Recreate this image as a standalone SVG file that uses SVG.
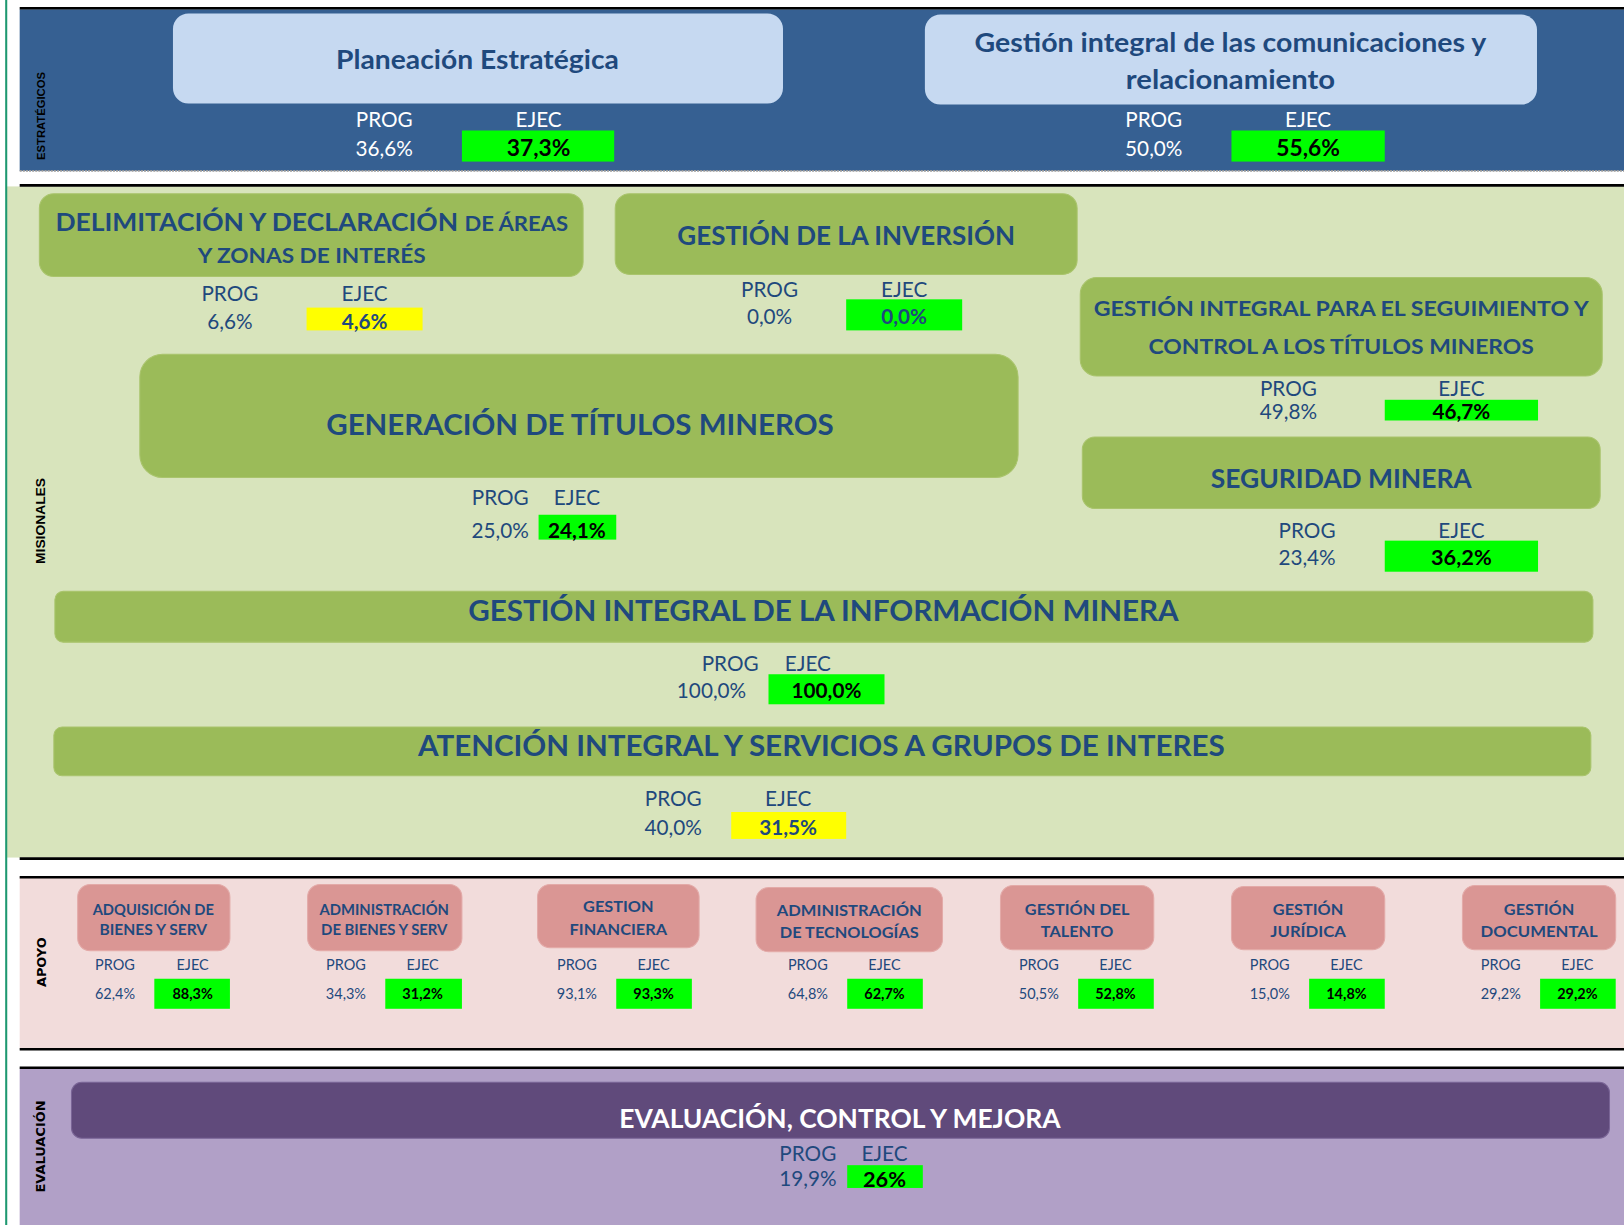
<svg xmlns="http://www.w3.org/2000/svg" width="1624" height="1225" viewBox="0 0 1624 1225">
<style>
text{font-family:Lato,"Open Sans","Liberation Sans",sans-serif;text-anchor:middle}
.ttl{font-weight:bold;fill:#1F497D}
.lb{fill:#1F497D}
.lw{fill:#FFFFFF}
.vb{font-weight:bold;fill:#000000}
.vd{font-weight:bold;fill:#1F497D}
.side{font-family:"DejaVu Sans",Verdana,sans-serif;font-weight:bold;fill:#000}
.bl{stroke:#000;stroke-width:2.5}
.gbox{fill:#9BBB59;stroke:#A9C46C;stroke-width:1}
.pbox{fill:#DA9694;stroke:#E3AAA8;stroke-width:1}
.ok{fill:#00FF00}
.warn{fill:#FFFF00}
</style>
<rect width="1624" height="1225" fill="#FFFFFF"/>
<g transform="scale(1.03571)">
<g id="bands">
<rect x="19" y="9" width="1549" height="156" fill="#366092"/>
<line x1="19" y1="165" x2="1568" y2="165" stroke="#9a9a9a" stroke-width="1.5" stroke-dasharray="2 1"/>
<line class="bl" x1="19" y1="8" x2="1568" y2="8"/>
<rect x="6" y="180" width="1562" height="648" fill="#D8E4BC"/>
<line class="bl" x1="19" y1="179" x2="1568" y2="179"/>
<line class="bl" x1="19" y1="829" x2="1568" y2="829"/>
<rect x="19" y="847" width="1549" height="165" fill="#F2DCDB"/>
<line class="bl" x1="19" y1="847" x2="1568" y2="847"/>
<line class="bl" x1="19" y1="1013" x2="1568" y2="1013"/>
<rect x="19" y="1032" width="1549" height="151" fill="#B1A0C7"/>
<line class="bl" x1="19" y1="1031" x2="1568" y2="1031"/>
<line x1="6" y1="0" x2="6" y2="1183" stroke="#1E9870" stroke-width="2"/>
<text class="side" transform="rotate(-90 39 112)" x="39" y="116" font-size="11" textLength="85" lengthAdjust="spacingAndGlyphs" style="font-family:'Liberation Sans',Arial,sans-serif">ESTRATÉGICOS</text>
<text class="side" transform="rotate(-90 39 503)" x="39" y="507" font-size="12.5" textLength="83" lengthAdjust="spacingAndGlyphs" style="font-family:'Liberation Sans',Arial,sans-serif">MISIONALES</text>
<text class="side" transform="rotate(-90 39 929)" x="39" y="934" font-size="12" textLength="48" lengthAdjust="spacingAndGlyphs">APOYO</text>
<text class="side" transform="rotate(-90 39 1107)" x="39" y="1111" font-size="11.5" textLength="89" lengthAdjust="spacingAndGlyphs">EVALUACIÓN</text>
</g>

<g id="connectors"></g>

<g id="planeacion">
<rect x="167" y="13" width="589" height="87" rx="15" fill="#C6D9F1"/>
<text class="ttl" x="461" y="67" font-size="26" textLength="273" lengthAdjust="spacingAndGlyphs">Planeación Estratégica</text>
<text class="lw" x="371" y="123" font-size="20">PROG</text>
<text class="lw" x="371" y="151" font-size="20">36,6%</text>
<text class="lw" x="520" y="123" font-size="20">EJEC</text>
<rect class="ok" x="446" y="126" width="147" height="30"/>
<text class="vb" x="520" y="151" font-size="22">37,3%</text>
</g>

<g id="comunicaciones">
<rect x="893" y="14" width="591" height="87" rx="15" fill="#C6D9F1"/>
<text class="ttl" x="1188" y="50" font-size="26" textLength="494" lengthAdjust="spacingAndGlyphs">Gestión integral de las comunicaciones y</text>
<text class="ttl" x="1188" y="86" font-size="26" textLength="202" lengthAdjust="spacingAndGlyphs">relacionamiento</text>
<text class="lw" x="1114" y="123" font-size="20">PROG</text>
<text class="lw" x="1114" y="151" font-size="20">50,0%</text>
<text class="lw" x="1263" y="123" font-size="20">EJEC</text>
<rect class="ok" x="1189" y="126" width="148" height="30"/>
<text class="vb" x="1263" y="151" font-size="22">55,6%</text>
</g>

<g id="delimitacion">
<rect class="gbox" x="38" y="187" width="525" height="80" rx="14"/>
<text class="ttl" x="301" y="223" font-size="24" textLength="495" lengthAdjust="spacingAndGlyphs">DELIMITACIÓN Y DECLARACIÓN <tspan font-size="20">DE ÁREAS</tspan></text>
<text class="ttl" x="301" y="254" font-size="20" textLength="220" lengthAdjust="spacingAndGlyphs">Y ZONAS DE INTERÉS</text>
<text class="lb" x="222" y="291" font-size="20">PROG</text>
<text class="lb" x="222" y="318" font-size="20">6,6%</text>
<text class="lb" x="352" y="291" font-size="20">EJEC</text>
<rect class="warn" x="296" y="297" width="112" height="22"/>
<text class="vd" x="352" y="318" font-size="20">4,6%</text>
</g>

<g id="inversion">
<rect class="gbox" x="594" y="187" width="446" height="78" rx="14"/>
<text class="ttl" x="817" y="237" font-size="25" textLength="326" lengthAdjust="spacingAndGlyphs">GESTIÓN DE LA INVERSIÓN</text>
<text class="lb" x="743" y="287" font-size="20">PROG</text>
<text class="lb" x="743" y="313" font-size="20">0,0%</text>
<text class="lb" x="873" y="287" font-size="20">EJEC</text>
<rect class="ok" x="817" y="289" width="112" height="30"/>
<text class="vd" x="873" y="313" font-size="20">0,0%</text>
</g>

<g id="seguimiento">
<rect class="gbox" x="1043" y="268" width="504" height="95" rx="16"/>
<text class="ttl" x="1295" y="305" font-size="21" textLength="478" lengthAdjust="spacingAndGlyphs">GESTIÓN INTEGRAL PARA EL SEGUIMIENTO Y</text>
<text class="ttl" x="1295" y="342" font-size="21" textLength="372" lengthAdjust="spacingAndGlyphs">CONTROL A LOS TÍTULOS MINEROS</text>
<text class="lb" x="1244" y="382" font-size="20">PROG</text>
<text class="lb" x="1244" y="405" font-size="20">49,8%</text>
<text class="lb" x="1411" y="382" font-size="20">EJEC</text>
<rect class="ok" x="1337" y="386" width="148" height="20"/>
<text class="vb" x="1411" y="405" font-size="20">46,7%</text>
</g>

<g id="generacion">
<rect class="gbox" x="135" y="342" width="848" height="119" rx="22"/>
<text class="ttl" x="560" y="420" font-size="28" textLength="490" lengthAdjust="spacingAndGlyphs">GENERACIÓN DE TÍTULOS MINEROS</text>
<text class="lb" x="483" y="488" font-size="20">PROG</text>
<text class="lb" x="483" y="519" font-size="20">25,0%</text>
<text class="lb" x="557" y="488" font-size="20">EJEC</text>
<rect class="ok" x="520" y="497" width="75" height="24"/>
<text class="vb" x="557" y="519" font-size="20">24,1%</text>
</g>

<g id="seguridad">
<rect class="gbox" x="1045" y="422" width="500" height="69" rx="12"/>
<text class="ttl" x="1295" y="471" font-size="25" textLength="252" lengthAdjust="spacingAndGlyphs">SEGURIDAD MINERA</text>
<text class="lb" x="1262" y="519" font-size="20">PROG</text>
<text class="lb" x="1262" y="546" font-size="20">23,4%</text>
<text class="lb" x="1411" y="519" font-size="20">EJEC</text>
<rect class="ok" x="1337" y="522" width="148" height="30"/>
<text class="vb" x="1411" y="546" font-size="21">36,2%</text>
</g>

<g id="informacion">
<rect class="gbox" x="53" y="571" width="1485" height="49" rx="8"/>
<text class="ttl" x="795" y="600" font-size="28" textLength="686" lengthAdjust="spacingAndGlyphs">GESTIÓN INTEGRAL DE LA INFORMACIÓN MINERA</text>
<text class="lb" x="705" y="648" font-size="20">PROG</text>
<text class="lb" x="687" y="674" font-size="20">100,0%</text>
<text class="lb" x="780" y="648" font-size="20">EJEC</text>
<rect class="ok" x="742" y="651" width="112" height="29"/>
<text class="vb" x="798" y="674" font-size="20">100,0%</text>
</g>

<g id="atencion">
<rect class="gbox" x="52" y="702" width="1484" height="47" rx="8"/>
<text class="ttl" x="793" y="730" font-size="28" textLength="779" lengthAdjust="spacingAndGlyphs">ATENCIÓN INTEGRAL Y SERVICIOS A GRUPOS DE INTERES</text>
<text class="lb" x="650" y="778" font-size="20">PROG</text>
<text class="lb" x="650" y="806" font-size="20">40,0%</text>
<text class="lb" x="761" y="778" font-size="20">EJEC</text>
<rect class="warn" x="706" y="784" width="111" height="26"/>
<text class="vd" x="761" y="806" font-size="20">31,5%</text>
</g>

<g id="adquisicion">
<rect class="pbox" x="75" y="854" width="147" height="64" rx="12"/>
<text class="ttl" x="148" y="883" font-size="14.5" textLength="117" lengthAdjust="spacingAndGlyphs">ADQUISICIÓN DE</text>
<text class="ttl" x="148" y="903" font-size="14.5" textLength="104" lengthAdjust="spacingAndGlyphs">BIENES  Y SERV</text>
<text class="lb" x="111" y="937" font-size="14">PROG</text>
<text class="lb" x="111" y="965" font-size="14">62,4%</text>
<text class="lb" x="186" y="937" font-size="14">EJEC</text>
<rect class="ok" x="149" y="945" width="73" height="29"/>
<text class="vb" x="186" y="965" font-size="14">88,3%</text>
</g>

<g id="administracion-bienes">
<rect class="pbox" x="297" y="854" width="149" height="64" rx="12"/>
<text class="ttl" x="371" y="883" font-size="14.5" textLength="125" lengthAdjust="spacingAndGlyphs">ADMINISTRACIÓN</text>
<text class="ttl" x="371" y="903" font-size="14.5" textLength="122" lengthAdjust="spacingAndGlyphs">DE BIENES Y SERV</text>
<text class="lb" x="334" y="937" font-size="14">PROG</text>
<text class="lb" x="334" y="965" font-size="14">34,3%</text>
<text class="lb" x="408" y="937" font-size="14">EJEC</text>
<rect class="ok" x="372" y="945" width="74" height="29"/>
<text class="vb" x="408" y="965" font-size="14">31,2%</text>
</g>

<g id="financiera">
<rect class="pbox" x="519" y="854" width="156" height="61" rx="12"/>
<text class="ttl" x="597" y="881" font-size="14.5" textLength="68" lengthAdjust="spacingAndGlyphs">GESTION</text>
<text class="ttl" x="597" y="903" font-size="14.5" textLength="94" lengthAdjust="spacingAndGlyphs">FINANCIERA</text>
<text class="lb" x="557" y="937" font-size="14">PROG</text>
<text class="lb" x="557" y="965" font-size="14">93,1%</text>
<text class="lb" x="631" y="937" font-size="14">EJEC</text>
<rect class="ok" x="595" y="945" width="73" height="29"/>
<text class="vb" x="631" y="965" font-size="14">93,3%</text>
</g>

<g id="tecnologias">
<rect class="pbox" x="730" y="857" width="180" height="62" rx="12"/>
<text class="ttl" x="820" y="884" font-size="14.5" textLength="140" lengthAdjust="spacingAndGlyphs">ADMINISTRACIÓN</text>
<text class="ttl" x="820" y="906" font-size="14.5" textLength="134" lengthAdjust="spacingAndGlyphs">DE TECNOLOGÍAS</text>
<text class="lb" x="780" y="937" font-size="14">PROG</text>
<text class="lb" x="780" y="965" font-size="14">64,8%</text>
<text class="lb" x="854" y="937" font-size="14">EJEC</text>
<rect class="ok" x="818" y="945" width="73" height="29"/>
<text class="vb" x="854" y="965" font-size="14">62,7%</text>
</g>

<g id="talento">
<rect class="pbox" x="966" y="855" width="148" height="62" rx="12"/>
<text class="ttl" x="1040" y="883" font-size="14.5" textLength="101" lengthAdjust="spacingAndGlyphs">GESTIÓN DEL</text>
<text class="ttl" x="1040" y="905" font-size="14.5" textLength="70" lengthAdjust="spacingAndGlyphs">TALENTO</text>
<text class="lb" x="1003" y="937" font-size="14">PROG</text>
<text class="lb" x="1003" y="965" font-size="14">50,5%</text>
<text class="lb" x="1077" y="937" font-size="14">EJEC</text>
<rect class="ok" x="1041" y="945" width="73" height="29"/>
<text class="vb" x="1077" y="965" font-size="14">52,8%</text>
</g>

<g id="juridica">
<rect class="pbox" x="1189" y="856" width="148" height="61" rx="12"/>
<text class="ttl" x="1263" y="883" font-size="14.5" textLength="68" lengthAdjust="spacingAndGlyphs">GESTIÓN</text>
<text class="ttl" x="1263" y="905" font-size="14.5" textLength="73" lengthAdjust="spacingAndGlyphs">JURÍDICA</text>
<text class="lb" x="1226" y="937" font-size="14">PROG</text>
<text class="lb" x="1226" y="965" font-size="14">15,0%</text>
<text class="lb" x="1300" y="937" font-size="14">EJEC</text>
<rect class="ok" x="1264" y="945" width="73" height="29"/>
<text class="vb" x="1300" y="965" font-size="14">14,8%</text>
</g>

<g id="documental">
<rect class="pbox" x="1412" y="855" width="148" height="62" rx="12"/>
<text class="ttl" x="1486" y="883" font-size="14.5" textLength="68" lengthAdjust="spacingAndGlyphs">GESTIÓN</text>
<text class="ttl" x="1486" y="905" font-size="14.5" textLength="113" lengthAdjust="spacingAndGlyphs">DOCUMENTAL</text>
<text class="lb" x="1449" y="937" font-size="14">PROG</text>
<text class="lb" x="1449" y="965" font-size="14">29,2%</text>
<text class="lb" x="1523" y="937" font-size="14">EJEC</text>
<rect class="ok" x="1487" y="945" width="73" height="29"/>
<text class="vb" x="1523" y="965" font-size="14">29,2%</text>
</g>

<g id="evaluacion">
<rect x="69" y="1045" width="1485" height="54" rx="10" fill="#604A7B" stroke="#7A6596" stroke-width="1"/>
<text x="811" y="1089" font-size="26" font-weight="bold" fill="#FFFFFF" textLength="426" lengthAdjust="spacingAndGlyphs">EVALUACIÓN, CONTROL Y MEJORA</text>
<text class="lb" x="780" y="1121" font-size="20">PROG</text>
<text class="lb" x="780" y="1145" font-size="20">19,9%</text>
<text class="lb" x="854" y="1121" font-size="20">EJEC</text>
<rect class="ok" x="818" y="1125" width="73" height="22"/>
<text class="vb" x="854" y="1146" font-size="21">26%</text>
</g>
</g>
</svg>
